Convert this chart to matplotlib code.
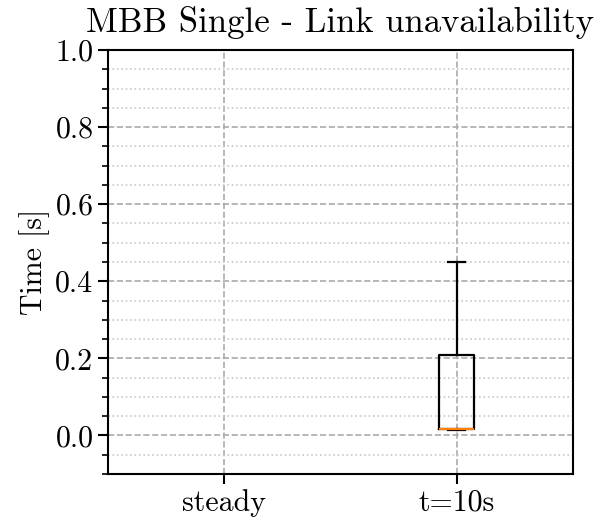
import matplotlib
matplotlib.use("Agg")
import matplotlib.pyplot as plt
from matplotlib.ticker import MultipleLocator

plt.rcParams['font.family'] = 'serif'
plt.rcParams['font.serif'] = ['cmr10', 'DejaVu Serif']
plt.rcParams['mathtext.fontset'] = 'cm'
plt.rcParams['axes.formatter.use_mathtext'] = True

# valeurs (secondes)
labels = ['steady', 't=10s']
whislo = [None, 0.014]
q1 = [None, 0.018]
med = [None, 0.018]
q3 = [None, 0.21]
whishi = [None, 0.45]

stats = []
for i in range(len(labels)):
    if med[i] is None:
        nan = float('nan')
        stats.append(dict(label=labels[i], whislo=nan, q1=nan, med=nan, q3=nan, whishi=nan, fliers=[]))
    else:
        stats.append(dict(label=labels[i], whislo=whislo[i], q1=q1[i], med=med[i],
                          q3=q3[i], whishi=whishi[i], fliers=[]))

fig = plt.figure(figsize=(6.1, 5.24), dpi=100)
ax = fig.add_axes([0.177, 0.0954, 0.762, 0.8092])

ax.bxp(stats, positions=[1, 2], widths=0.15, showfliers=False,
       boxprops=dict(color='black', linewidth=1.6),
       whiskerprops=dict(color='black', linewidth=1.6),
       capprops=dict(color='black', linewidth=1.6),
       medianprops=dict(color='#ff7f0e', linewidth=1.6))

ax.set_xlim(0.5, 2.5)
ax.set_ylim(-0.1, 1.0)
ax.yaxis.set_major_locator(MultipleLocator(0.2))
ax.yaxis.set_minor_locator(MultipleLocator(0.05))
ax.yaxis.set_major_formatter(matplotlib.ticker.FormatStrFormatter('%.1f'))

ax.grid(True, which='major', axis='both', linestyle='--', color='#aaaaaa', linewidth=1.2)
ax.grid(True, which='minor', axis='y', linestyle=':', color='#c8c8c8', linewidth=1.2)
ax.set_axisbelow(True)

for s in ax.spines.values():
    s.set_linewidth(1.5)
ax.tick_params(which='major', direction='out', length=7, width=1.5, labelsize=21.5)
ax.tick_params(which='minor', direction='out', length=4, width=1.2)
ax.tick_params(axis='x', which='minor', bottom=False)

ax.set_ylabel('Time [s]', fontsize=21.5)
ax.set_title('MBB Single - Link unavailability', fontsize=25, pad=13)

fig.savefig('out.png', dpi=100)
